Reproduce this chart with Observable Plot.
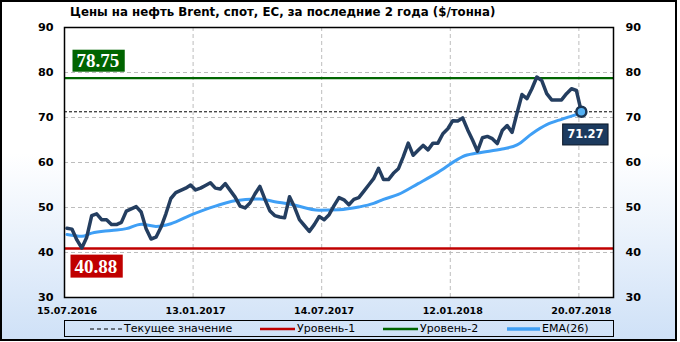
<!DOCTYPE html>
<html><head><meta charset="utf-8">
<script src="https://cdn.jsdelivr.net/npm/d3@7"></script>
<script src="https://cdn.jsdelivr.net/npm/@observablehq/plot@0.6"></script>
<style>
body{margin:0;width:680px;height:342px;overflow:hidden;}
#frame{position:absolute;left:0;top:0;width:677px;height:341px;box-sizing:border-box;border:2px solid #000;
 background:linear-gradient(to bottom,#ffffff 0%,#ffffff 45%,#cfe1f7 100%);}
#title{position:absolute;left:70px;top:6px;font:bold 11.8px "DejaVu Sans";line-height:12px;white-space:nowrap;color:#000;}
#chart{position:absolute;left:0;top:0;}
#legend{position:absolute;left:64px;top:320px;width:550px;height:17px;box-sizing:border-box;border:1px solid #000;}
.li{position:absolute;top:0;height:15px;display:flex;align-items:center;font:11px "DejaVu Sans";white-space:nowrap;color:#000;}
.li svg{margin-right:2px;}
</style></head>
<body>
<div id="frame"></div>
<div id="title"></div>
<div id="chart"></div>
<div id="legend"></div>
<script>
// ---- data ----
const title = "Цены на нефть Brent, спот, ЕС, за последние 2 года ($/тонна)";
const price = [45.4,45.2,42.8,41.0,43.4,48.2,48.6,47.3,47.3,46.2,
 46.2,46.7,49.2,49.7,50.2,49.0,45.3,43.0,43.4,45.6,
 48.6,52.0,53.3,53.8,54.3,55.0,53.9,54.3,54.9,55.5,
 54.3,54.1,55.3,53.8,52.3,50.3,49.9,51.0,53.0,54.7,
 51.9,49.3,48.2,47.9,47.7,52.4,50.1,47.3,46.0,44.7,
 46.2,48.0,47.3,48.4,50.4,52.2,51.7,50.6,51.8,52.2,
 53.6,55.0,56.4,58.7,56.2,56.2,57.6,58.6,61.3,64.3,
 61.6,62.7,63.8,62.8,64.3,64.3,66.4,67.5,69.3,69.2,
 69.9,67.3,65.0,62.5,65.5,65.8,65.3,64.2,67.1,68.2,
 66.7,71.0,75.1,74.2,76.4,79.0,78.2,75.3,73.9,73.9,
 73.9,75.3,76.4,76.0,71.27];
const emaWeek = [0,3,5,9,12,15,18,21,25,30,34,39,42,45,51,55,59,62,64,67,71,75,79,80,83,88,91,94,97,100,102,104];
const emaVal  = [44.0,43.6,44.3,44.9,45.3,46.3,45.8,46.4,48.3,50.3,51.5,51.9,51.3,50.8,49.4,49.5,50.1,50.9,51.8,52.9,55.3,57.8,60.7,61.3,62.1,63.0,63.9,66.4,68.4,69.6,70.3,71.0];
const level1 = 40.88;
const level2 = 78.75;
const current = 71.27;
const xTickWeeks = [0,26,52,78,104];
const xTickLabels = ["15.07.2016","13.01.2017","14.07.2017","12.01.2018","20.07.2018"];
const yTicks = [30,40,50,60,70,80,90];
const yGrid = [40,50,60,70,80];
const legendLabels = ["Текущее значение","Уровень-1","Уровень-2","EMA(26)"];

// ---- colors ----
const cPrice = "#243e60", cEma = "#3f9ff5", cL1 = "#c00000", cL2 = "#006400";

const priceData = price.map((v,i)=>({i, v}));
const emaData = emaWeek.map((w,k)=>({i:w, v:emaVal[k]}));
const last = priceData[priceData.length-1];
const labelOf = new Map(xTickWeeks.map((w,k)=>[w, xTickLabels[k]]));
const axisFont = {fontFamily:"DejaVu Sans", fontWeight:"bold", label:null};

const plot = Plot.plot({
  width: 680, height: 342,
  marginLeft: 64, marginRight: 67, marginTop: 27, marginBottom: 45,
  style: {background:"transparent", fontFamily:"DejaVu Sans", color:"#000", overflow:"visible"},
  x: {domain: [-0.5, 110.5], axis: null, label: null},
  y: {domain: [30, 90], axis: null, label: null},
  marks: [
    Plot.frame({fill:"#fff", stroke:"none"}),
    Plot.ruleY(yGrid, {stroke:"#bdbdbd", strokeDasharray:"4,3", strokeWidth:1}),
    Plot.ruleX(xTickWeeks.slice(1), {x: d => d - 0.5, stroke:"#bdbdbd", strokeDasharray:"4,3", strokeWidth:1}),
    Plot.ruleY([level2], {stroke:cL2, strokeWidth:2.2}),
    Plot.ruleY([level1], {stroke:cL1, strokeWidth:2.5}),
    Plot.ruleY([current], {stroke:"#000", strokeDasharray:"3,2", strokeWidth:1}),
    Plot.line(emaData, {x:"i", y:"v", stroke:cEma, strokeWidth:3, curve:"monotone-x"}),
    Plot.line(priceData, {x:"i", y:"v", stroke:cPrice, strokeWidth:3.5, strokeLinejoin:"round"}),
    Plot.dot([last], {x:"i", y:"v", r:5, fill:"#53b0f3", stroke:"#1b3553", strokeWidth:2.5}),
    Plot.frame({stroke:"#000", strokeWidth:1.5}),
    Plot.axisY(yTicks, {anchor:"left", tickSize:0, tickPadding:11, fontSize:11.2, ...axisFont}),
    Plot.axisY(yTicks, {anchor:"right", tickSize:0, tickPadding:12, fontSize:11.2, ...axisFont}),
    Plot.axisX(xTickWeeks, {anchor:"bottom", tickSize:0, tickPadding:10, fontSize:9.5, tickFormat: d => labelOf.get(d), ...axisFont}),
    Plot.text([level2], {y: d=>d, text: d=>d.toFixed(2), frameAnchor:"left", textAnchor:"start", dx:12, dy:-17, fill:"#fff",
      fontFamily:"Liberation Serif", fontWeight:"bold", fontSize:19}),
    Plot.text([level1], {y: d=>d, text: d=>d.toFixed(2), frameAnchor:"left", textAnchor:"start", dx:10, dy:18, fill:"#fff",
      fontFamily:"Liberation Serif", fontWeight:"bold", fontSize:19}),
    Plot.text([last], {x:"i", y:"v", text: d=>d.v.toFixed(2), textAnchor:"middle", dx:4, dy:23, fill:"#fff",
      fontFamily:"DejaVu Sans", fontWeight:"bold", fontSize:11.5})
  ]
});
document.getElementById("chart").appendChild(plot);
document.getElementById("title").textContent = title;

// badge backgrounds sized from the rendered text
function badge(content, fill, stroke, padL, padR, h) {
  const t = Array.from(plot.querySelectorAll("text")).find(e => e.textContent === content);
  if (!t) return;
  const b = t.getBBox();
  const r = document.createElementNS("http://www.w3.org/2000/svg","rect");
  const cy = b.y + b.height/2;
  r.setAttribute("x", b.x - padL);
  r.setAttribute("y", cy - h/2);
  r.setAttribute("width", b.width + padL + padR);
  r.setAttribute("height", h);
  r.setAttribute("fill", fill);
  if (stroke) { r.setAttribute("stroke", stroke); r.setAttribute("stroke-width", 1); }
  if (t.getAttribute("transform")) r.setAttribute("transform", t.getAttribute("transform"));
  t.parentNode.insertBefore(r, t);
}
badge(level2.toFixed(2), cL2, null, 4, 5.5, 22);
badge(level1.toFixed(2), cL1, null, 4, 5.5, 23);
badge(current.toFixed(2), "#1c3a5e", "#0b1626", 4.5, 4.5, 21);

// legend
const legend = document.getElementById("legend");
const items = [
  {x: 90-65, w: 32, stroke:"#000", sw:1, dash:"4,3"},
  {x: 260-65, w: 35, stroke:cL1, sw:2.5},
  {x: 383-65, w: 35, stroke:cL2, sw:2.5},
  {x: 507-65, w: 33, stroke:cEma, sw:3.5}
];
items.forEach((it,k) => {
  const d = document.createElement("div");
  d.className = "li";
  d.style.left = it.x + "px";
  d.innerHTML = `<svg width="${it.w}" height="8"><line x1="0" x2="${it.w}" y1="4" y2="4" stroke="${it.stroke}" stroke-width="${it.sw}" ${it.dash?`stroke-dasharray="${it.dash}"`:""}/></svg><span>${legendLabels[k]}</span>`;
  legend.appendChild(d);
});
</script>
</body></html>
